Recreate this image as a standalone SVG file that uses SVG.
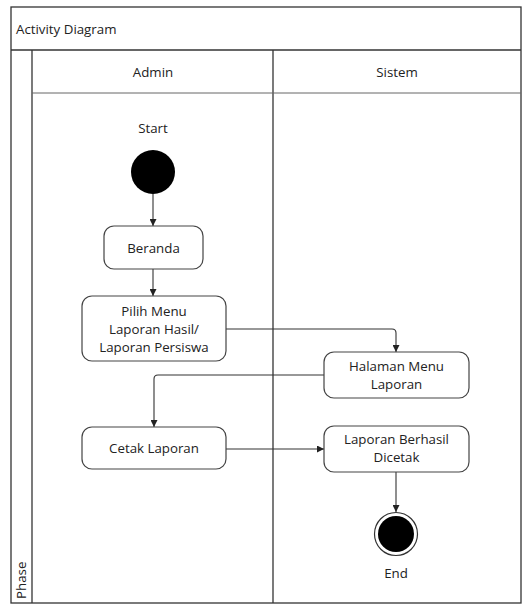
<svg xmlns="http://www.w3.org/2000/svg" width="525" height="606" viewBox="0 0 525 606">
<style>
text{font-family:"Open Sans","Noto Sans",sans-serif;font-size:13.3px;fill:#222;}
.c{text-anchor:middle;}
.frame{fill:none;stroke:#333;stroke-width:1.3;}
.act{fill:#fff;stroke:#444;stroke-width:1.2;}
.conn{fill:none;stroke:#333;stroke-width:1.1;marker-end:url(#ah);}
</style>
<defs>
<marker id="ah" viewBox="0 0 10 10" refX="10" refY="5" markerWidth="7" markerHeight="7" markerUnits="userSpaceOnUse" orient="auto">
<path d="M0,0 L10,5 L0,10 z" fill="#222"/>
</marker>
</defs>
<rect width="525" height="606" fill="#fff"/>
<g id="frame">
<rect class="frame" x="11" y="7" width="510" height="596"/>
<line class="frame" x1="11" y1="50" x2="521" y2="50"/>
<line class="frame" x1="32" y1="50" x2="32" y2="603"/>
<line class="frame" x1="273" y1="50" x2="273" y2="603"/>
<line x1="32" y1="93" x2="521" y2="93" stroke="#666" stroke-width="1"/>
<text x="16" y="34">Activity Diagram</text>
<text class="c" x="153" y="77">Admin</text>
<text class="c" x="397" y="77">Sistem</text>
<text transform="translate(26,599) rotate(-90)">Phase</text>
</g>
<g id="connectors">
<line class="conn" x1="153" y1="194" x2="153" y2="226"/>
<line class="conn" x1="153" y1="269" x2="153" y2="296"/>
<path class="conn" d="M226,329 H392 Q396,329 396,333 V352"/>
<path class="conn" d="M324,375 H158 Q154,375 154,379 V427"/>
<line class="conn" x1="226" y1="449" x2="324" y2="449"/>
<line class="conn" x1="396" y1="472" x2="396" y2="512"/>
</g>
<g id="start">
<text class="c" x="153" y="133">Start</text>
<circle cx="153" cy="172" r="22" fill="#000"/>
</g>
<g id="beranda">
<rect class="act" x="104" y="226" width="99" height="43" rx="10"/>
<text class="c" x="153.5" y="252.5">Beranda</text>
</g>
<g id="pilih">
<rect class="act" x="82" y="296" width="144" height="65" rx="10"/>
<text class="c" x="154" y="316">Pilih Menu</text>
<text class="c" x="154" y="334">Laporan Hasil/</text>
<text class="c" x="154" y="352">Laporan Persiswa</text>
</g>
<g id="halaman">
<rect class="act" x="324" y="352" width="145" height="46" rx="10"/>
<text class="c" x="396.5" y="370.5">Halaman Menu</text>
<text class="c" x="396.5" y="388.5">Laporan</text>
</g>
<g id="cetak">
<rect class="act" x="82" y="427" width="144" height="42" rx="10"/>
<text class="c" x="154" y="453">Cetak Laporan</text>
</g>
<g id="berhasil">
<rect class="act" x="324" y="426" width="145" height="46" rx="10"/>
<text class="c" x="396.5" y="443.5">Laporan Berhasil</text>
<text class="c" x="396.5" y="461.5">Dicetak</text>
</g>
<g id="end">
<circle cx="396" cy="534" r="21.5" fill="#fff" stroke="#333" stroke-width="1.2"/>
<circle cx="396" cy="534" r="18" fill="#000"/>
<text class="c" x="396" y="578">End</text>
</g>
</svg>
